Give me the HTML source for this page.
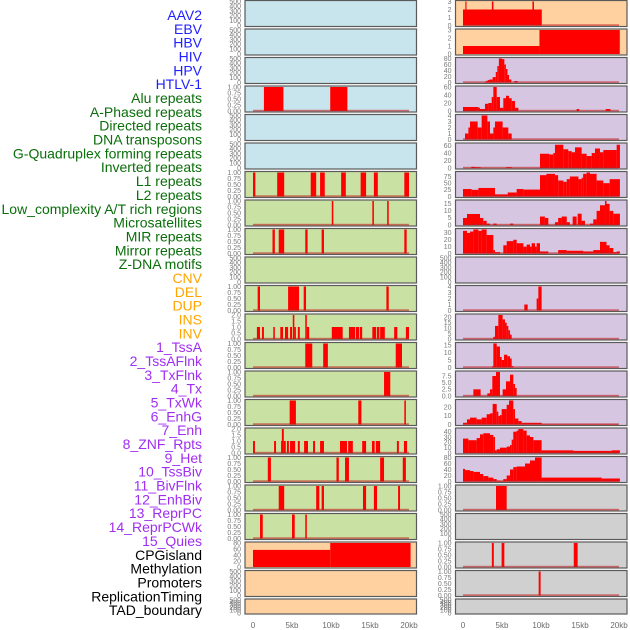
<!DOCTYPE html>
<html><head><meta charset="utf-8">
<style>
html,body{margin:0;padding:0;background:#fff;}
svg{display:block;font-family:"Liberation Sans",sans-serif;}
</style></head>
<body>
<svg id="chart" width="630" height="630" viewBox="0 0 630 630" xmlns="http://www.w3.org/2000/svg"></svg>
<script>
// ---- data ----
const trackLabels = ["AAV2","EBV","HBV","HIV","HPV","HTLV-1","Alu repeats","A-Phased repeats","Directed repeats","DNA transposons","G-Quadruplex forming repeats","Inverted repeats","L1 repeats","L2 repeats","Low_complexity A/T rich regions","Microsatellites","MIR repeats","Mirror repeats","Z-DNA motifs","CNV","DEL","DUP","INS","INV","1_TssA","2_TssAFlnk","3_TxFlnk","4_Tx","5_TxWk","6_EnhG","7_Enh","8_ZNF_Rpts","9_Het","10_TssBiv","11_BivFlnk","12_EnhBiv","13_ReprPC","14_ReprPCWk","15_Quies","CPGisland","Methylation","Promoters","ReplicationTiming","TAD_boundary"];
const labelGroups = ["v","v","v","v","v","v","r","r","r","r","r","r","r","r","r","r","r","r","r","s","s","s","s","s","c","c","c","c","c","c","c","c","c","c","c","c","c","c","c","o","o","o","o","o"];
const xTicks = [0,5,10,15,20];
const xTickLabels = ["0","5kb","10kb","15kb","20kb"];
// per-panel y ranges: [yMax, tick step]
const leftYMax = [500,500,500,1,500,500,1,1,1,500,1,2,1,1,1,2,1,1,1,80,500,500];
const leftYStep = [100,100,100,0.25,100,100,0.25,0.25,0.25,100,0.25,0.5,0.25,0.25,0.25,0.5,0.25,0.25,0.25,20,100,100];
const rightYMax = [3,3,80,60,4,64,90,17,35,500,4,22,16,9,28,45,80,1,500,1,1,500];
const rightYStep = [1,1,20,20,1,20,25,5,10,100,1,5,5,2.5,10,10,20,0.25,100,0.25,0.25,100];
const leftBg = ["b","b","b","b","b","b","g","g","g","g","g","g","g","g","g","g","g","g","g","p","p","p"];
const rightBg = ["p","p","l","l","l","l","l","l","l","l","l","l","l","l","l","l","l","x","x","x","x","x"];
// segments: [startKb, endKb, value]
const leftSegs = [
 [],[],[],
 [[1.4,3.9,1],[9.9,12.1,1]],
 [],[],
 [[0,0.3,1],[3.1,4.0,1],[7.4,8.1,1],[8.6,9.2,1],[11.3,11.9,1],[13.8,14.5,1],[15.5,16.0,1],[19.4,20.0,1]],
 [[10.1,10.3,1],[15.3,15.5,1],[17.2,17.4,1]],
 [[2.5,2.8,1],[3.3,4.0,1],[6.7,7.0,1],[8.8,9.1,1],[19.4,19.7,1]],
 [],
 [[0.6,0.9,1],[4.5,5.9,1],[6.5,6.8,1],[17.1,17.4,1]],
 [[0.5,0.9,1],[1.15,1.4,1],[2.6,2.8,1],[3.5,3.85,1],[4.1,4.5,1],[4.75,5.0,1],[5.1,5.3,2],[5.3,5.5,1],[5.75,6.0,1],[6.7,6.9,2],[6.9,7.2,1],[10.1,11.5,1],[12.3,13.1,1],[13.2,13.6,1],[13.7,14.0,1],[15.3,15.8,1],[15.9,16.2,1],[16.3,16.9,1],[18.1,18.5,1],[19.6,20.0,1]],
 [[6.7,7.6,1],[9.0,9.6,1],[18.3,19.1,1]],
 [[16.8,17.6,1]],
 [[4.7,5.5,1],[13.5,13.9,1],[19.4,19.6,1]],
 [[0,0.25,1],[2.7,2.95,1],[3.6,3.7,1],[3.7,3.95,2],[3.95,4.2,1],[4.35,4.6,1],[4.75,5.4,1],[5.75,6.0,1],[6.55,7.05,1],[7.7,7.95,1],[8.6,9.1,1],[11.15,12.05,1],[12.2,12.8,1],[14.0,14.5,1],[15.25,15.6,1],[15.75,16.3,1],[18.45,18.7,1],[19.35,19.75,1]],
 [[1.9,2.3,1],[10.7,11.0,1],[11.8,12.3,1],[16.3,16.8,1],[19.2,19.6,1]],
 [[3.3,4.0,1],[8.1,8.5,1],[8.8,9.1,1],[14.1,14.5,1],[15.5,15.9,1],[18.6,18.85,1]],
 [[0.9,1.25,1],[5.0,5.35,1],[6.7,6.9,1]],
 [[0,9.9,57],[9.9,20.2,80]],
 [],[]
];
const rightSegs = [
 [[0,10.1,2],[0.3,0.45,3],[3.7,3.9,3],[8.9,9.1,3]],
 [[0,9.8,1],[9.8,20.1,3]],
 [[2.8,3.0,3],[3.0,3.2,6],[3.2,3.4,8],[3.4,3.8,10],[3.8,4.2,18],[4.2,4.4,35],[4.4,4.6,55],[4.6,5.0,80],[5.0,5.3,78],[5.3,5.5,60],[5.5,5.7,45],[5.7,5.9,25],[5.9,6.2,10],[6.6,7.0,5]],
 [[0,1.97,10],[1.97,2.18,8],[2.18,2.82,5],[2.82,3.25,18],[3.25,3.68,20],[3.68,3.89,35],[3.89,4.32,60],[4.32,4.74,35],[4.74,5.17,8],[5.17,5.51,32],[5.51,5.9,38],[5.9,6.24,32],[6.24,6.67,25],[6.67,7.1,8],[14.57,14.9,5],[18.3,18.9,5]],
 [[0.26,0.69,1],[0.69,0.9,2],[0.9,1.88,3],[1.88,2.39,2],[2.39,3.12,4],[3.12,3.46,3],[3.46,3.89,1],[3.89,4.1,2],[4.1,5.08,3],[5.08,5.81,2],[5.81,6.24,1]],
 [[1.06,1.54,3],[1.54,2.26,2],[5.51,6.24,2],[9.87,11.07,38],[11.07,11.58,36],[11.58,11.79,40],[11.79,12.86,62],[12.86,13.5,50],[13.5,13.93,45],[13.93,14.36,42],[14.36,15.21,55],[15.21,15.85,38],[15.85,16.5,32],[16.5,16.92,40],[16.92,17.56,52],[17.56,17.99,42],[17.99,19.7,48],[19.7,20.12,62]],
 [[0,1.11,28],[1.11,1.97,25],[1.97,4.1,32],[4.1,5.73,8],[5.73,6.88,15],[6.88,7.74,28],[7.74,9.87,26],[9.87,10.7,80],[10.7,11.79,85],[11.79,12.2,80],[12.2,12.86,60],[12.86,13.3,55],[13.3,13.7,65],[13.7,14.8,75],[14.8,15.21,65],[15.21,15.4,70],[15.4,15.85,85],[15.85,16.28,90],[16.28,17.13,85],[17.13,17.99,60],[17.99,18.8,50],[18.8,20.12,65]],
 [[0,0.51,5],[0.51,2.18,7.8],[2.18,2.6,5],[2.6,3.03,3],[3.03,3.46,1],[3.89,4.32,1],[6.03,6.45,1],[9.87,10.5,6],[10.5,10.94,5],[11.79,12.2,2],[12.2,12.65,5],[12.65,13.3,6],[13.3,13.7,2],[14.06,14.57,6],[14.7,15.21,8],[15.21,15.64,3],[16.28,16.7,1],[16.7,17.13,4],[17.13,17.56,10],[17.56,18.2,14],[18.2,18.4,17],[18.4,18.8,15],[18.8,19.27,10],[19.27,20.12,8]],
 [[0,0.51,33],[0.51,0.9,30],[0.9,1.33,32],[1.33,1.97,35],[1.97,2.39,33],[2.39,3.03,35],[3.03,3.89,27],[3.89,4.1,5],[4.1,4.74,2],[5.17,5.6,12],[5.6,6.45,18],[6.45,6.88,20],[6.88,7.74,15],[7.74,8.16,10],[8.16,8.59,13],[8.59,8.8,10],[8.8,9.23,15],[9.23,9.44,10],[9.44,9.87,15],[9.87,10.94,3],[12.2,13.3,5],[13.3,15.43,4],[15.43,16.7,3],[16.7,17.56,5],[17.56,18.4,17],[18.4,18.8,12],[18.8,19.27,8],[19.27,19.7,2],[19.7,20.12,3]],
 [],
 [[7.86,8.29,1],[9.44,9.66,2],[9.66,10.08,4]],
 [[3.89,4.1,2],[4.1,4.53,12],[4.53,5.08,22],[5.08,5.38,18],[5.38,5.6,15],[5.6,5.81,12],[5.81,6.03,8],[6.03,6.24,4]],
 [[3.76,3.89,1],[3.89,4.32,16],[4.32,4.74,14],[4.74,4.96,7],[4.96,5.26,5],[5.26,5.68,8.5],[5.68,6.03,7.5],[6.03,6.24,6],[6.24,6.45,1]],
 [[1.33,2.26,2.5],[3.12,3.46,1],[3.46,3.76,2.5],[3.76,4.23,7.5],[4.23,4.74,9],[5.08,5.51,2.5],[5.51,6.03,5.5],[6.03,6.45,8],[6.45,6.67,4.5],[6.67,6.88,3]],
 [[0,0.51,2],[0.51,0.9,6],[0.9,1.75,8],[1.75,2.39,6],[2.39,3.03,8],[3.03,3.46,12],[3.46,3.8,13],[3.8,4.32,24],[4.32,4.53,15],[4.53,4.74,10],[4.74,4.96,11],[4.96,5.6,18],[5.6,5.9,23],[5.9,6.45,28],[6.45,6.67,18],[6.67,7.1,7],[7.1,7.52,4],[7.52,10.08,2],[10.08,19.9,0.5]],
 [[0,0.69,27],[0.69,1.75,24],[1.75,2.18,28],[2.18,2.6,35],[2.6,3.46,37],[3.46,3.89,34],[3.89,4.1,30],[4.1,4.32,5],[4.32,4.74,7],[4.74,5.6,10],[5.6,6.03,12],[6.03,6.24,15],[6.24,6.45,25],[6.45,6.88,40],[6.88,7.1,42],[7.1,7.74,45],[7.74,8.16,42],[8.16,8.59,33],[8.59,9.02,30],[9.02,10.08,24],[10.08,14.15,5],[14.15,19.06,4],[19.06,20.12,5]],
 [[0,0.26,42],[0.26,0.9,38],[0.9,1.33,35],[1.33,2.18,32],[2.18,2.6,25],[2.6,3.25,18],[3.25,3.89,13],[3.89,4.32,8],[4.32,4.74,3],[4.74,5.17,2],[5.17,5.6,8],[5.6,6.03,20],[6.03,6.45,40],[6.45,6.88,48],[6.88,7.95,50],[7.95,8.59,60],[8.59,9.23,70],[9.23,10.08,80],[10.08,17.78,13],[17.78,20.12,10]],
 [[4.23,5.6,1]],
 [],
 [[3.7,3.95,1],[4.95,5.3,1],[14.2,14.7,1]],
 [[9.7,9.95,1]],
 []
];
const noBaseline = {L19:true, R1:true};

// ---- drawing ----
const svg = document.getElementById('chart');
const NS = 'http://www.w3.org/2000/svg';
const bgColors = {b:'#c8e4ec', g:'#c9e1a2', p:'#ffd0a0', l:'#d6c6e2', x:'#d0d0d0'};
const labelColors = {v:'#1f1fff', r:'#0a6e0a', s:'#ffa500', c:'#a02ef0', o:'#000000'};
const rowPitch = 28.5;
function mk(tag, attrs){ const e=document.createElementNS(NS,tag); for(const k in attrs) e.setAttribute(k,attrs[k]); return e; }

// labels
trackLabels.forEach((t,i)=>{
  const el = mk('text',{x:202, y:20+i*13.84, 'text-anchor':'end', 'font-size':14, fill:labelColors[labelGroups[i]]});
  el.textContent = t;
  
  
  svg.appendChild(el);
});

function fmt(v, step){
  if (step===0.25) return v.toFixed(2);
  if (step===0.5 || step===2.5) return v.toFixed(1);
  return String(Math.round(v));
}

function drawPanel(col, r, segs, yMax, yStep, bg){
  const px0 = col===0 ? 245 : 455.5;
  const pw = 171.5;
  const x0 = col===0 ? 253 : 463;
  const kbPx = 7.8;
  const top = r*rowPitch + 0.5;
  const h = r===21 ? 15 : 26;
  const yTop = top + 1, yBot = top + h - 1;
  const xs = kb => x0 + kb*kbPx;
  const ys = v => yBot - (v/yMax)*(yBot-yTop);
  const g = mk('g',{});
  
  
  const rect = mk('rect',{x:px0, y:top, width:pw, height:h, fill:bgColors[bg], stroke:'#5a5a5a', 'stroke-width':1.2});
  
  
  g.appendChild(rect);
  segs.forEach(s=>{
    const b = mk('rect',{x:xs(s[0]), y:ys(s[2]), width:Math.max(1,xs(s[1])-xs(s[0])), height:yBot-ys(s[2]), fill:'#ff0000'});
    
    
    g.appendChild(b);
  });
  const key = (col===0?'L':'R')+r;
  if (segs.length && !noBaseline[key]) {
    const bl = mk('rect',{x:xs(0), y:yBot-1.2, width:xs(20)-xs(0), height:1.6, fill:'rgba(190,30,30,0.6)'});
    
    
    g.appendChild(bl);
  }
  // y ticks
  const tx = px0 - 4;
  for (let v=0; v<=yMax+1e-9; v+=yStep){
    const t = mk('text',{x:tx, y:ys(v)+2.3, 'text-anchor':'end', 'font-size':7, fill:'#7a7a7a'});
    t.textContent = fmt(v, yStep);
    
    
    g.appendChild(t);
  }
  svg.appendChild(g);
}

for (let r=0; r<22; r++){
  drawPanel(0, r, leftSegs[r], leftYMax[r], leftYStep[r], leftBg[r]);
  drawPanel(1, r, rightSegs[r], rightYMax[r], rightYStep[r], rightBg[r]);
}
// x ticks
[253,463].forEach(x0=>{
  xTicks.forEach((k,i)=>{
    const t = mk('text',{x:x0+k*7.8, y:628, 'text-anchor':'middle', 'font-size':8, fill:'#6a6a6a'});
    t.textContent = xTickLabels[i];
    
    
    svg.appendChild(t);
  });
});
</script>
</body></html>
